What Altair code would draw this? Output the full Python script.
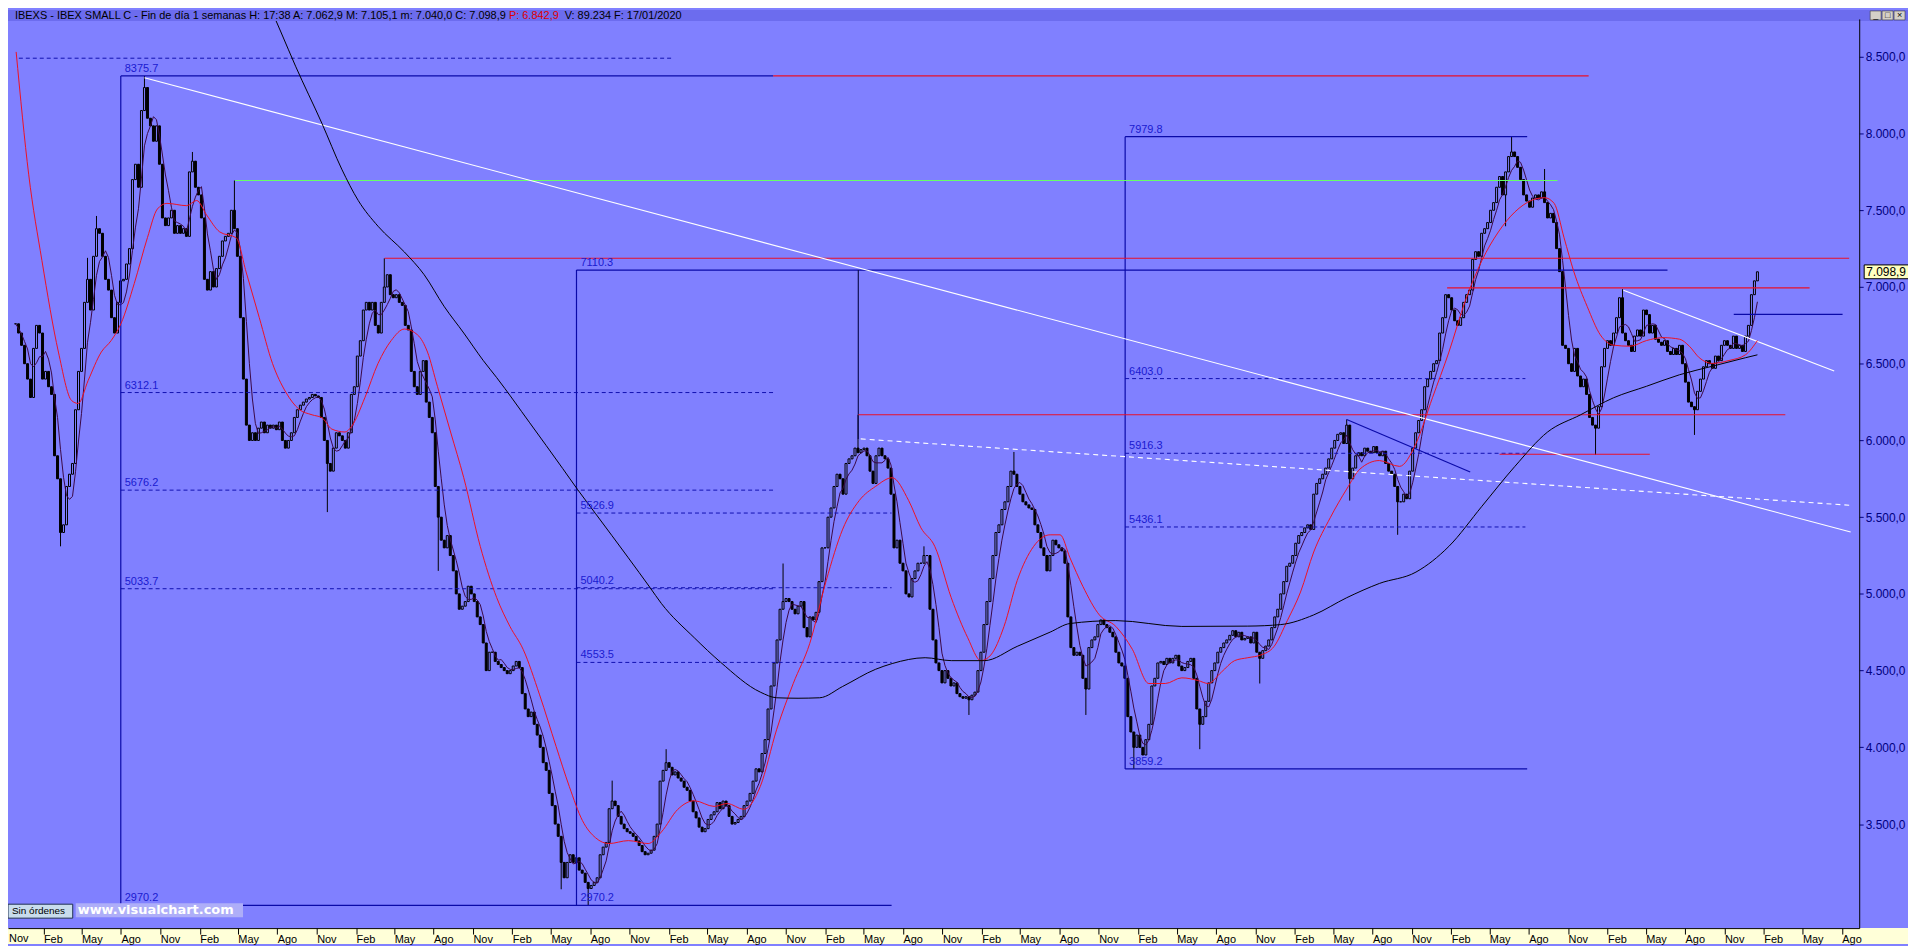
import altair as alt
import numpy as np
import pandas as pd

# ---------------- data ----------------
FIRST_WEEK = "2008-11-28"   # first weekly candle; one value per week up to 17/01/2020

closes = [
    6760, 6700, 6620, 6500, 6400, 6280, 6600, 6750, 6700, 6400,
    6450, 6350, 6300, 5900, 5750, 5400, 5450, 5700, 5780, 5850,
    6200, 6450, 6600, 6900, 7050, 6850, 7200, 7380, 7350, 7200,
    7050, 6980, 6800, 6700, 6900, 7040, 7050, 7150, 7250, 7700,
    7800, 7650, 8150, 8300, 8100, 8050, 7950, 8050, 7800, 7450,
    7400, 7450, 7500, 7350, 7400, 7350, 7380, 7330, 7750, 7820,
    7650, 7600, 7450, 7050, 6980, 7100, 7000, 7120, 7200, 7300,
    7330, 7350, 7500, 7380, 7200, 6800, 6400, 6100, 6000, 6050,
    6000, 6080, 6120, 6050, 6100, 6080, 6100, 6070, 6120, 6000,
    5950, 6000, 6050, 6150, 6200, 6230, 6250, 6270, 6280, 6300,
    6290, 6280, 6150, 6000, 5850, 5800, 5950, 6050, 6030, 6000,
    5950, 6050, 6300, 6350, 6550, 6650, 6850, 6900, 6850, 6900,
    6750, 6700, 6900, 7000, 7080, 6950, 6930, 6950, 6900, 6880,
    6750, 6720, 6450, 6350, 6300, 6450, 6520, 6250, 6150, 6050,
    5700, 5500, 5350, 5300, 5380, 5250, 5150, 5000, 4900, 4920,
    4950, 5050, 5000, 4950, 4850, 4800, 4680, 4500, 4620, 4620,
    4560, 4540, 4520, 4500, 4480, 4500, 4530, 4560, 4520, 4350,
    4250, 4200, 4230, 4150, 4080, 4000, 3900, 3850, 3700, 3620,
    3500, 3420, 3250, 3150, 3250, 3300, 3250, 3280, 3200, 3180,
    3120, 3080, 3100, 3120, 3150, 3300, 3350, 3380, 3600, 3650,
    3620, 3550, 3500, 3470, 3450, 3440, 3420, 3390, 3360, 3320,
    3300, 3310, 3330, 3420, 3500, 3780, 3850, 3900, 3870, 3820,
    3840, 3800, 3780, 3740, 3720, 3650, 3580, 3540, 3480, 3450,
    3470, 3530, 3560, 3580, 3640, 3600, 3650, 3620, 3550, 3500,
    3510, 3530, 3550, 3620, 3650, 3700, 3780, 3860, 3840, 3960,
    4050, 4250, 4400, 4550, 4700, 4900, 4950, 4970, 4950, 4900,
    4870, 4920, 4950, 4780, 4720, 4850, 4830, 4880, 5080, 5300,
    5300, 5500, 5560, 5700, 5780, 5750, 5650, 5850, 5880, 5900,
    5950, 5920, 5940, 5950, 5900, 5800, 5720, 5900, 5950, 5900,
    5880, 5820, 5650, 5300, 5350, 5200, 5150, 5000, 4980, 5100,
    5150, 5200, 5200, 5250, 5250, 4900, 4700, 4550, 4500, 4420,
    4500, 4450, 4400, 4420, 4350, 4330, 4320, 4330, 4310, 4340,
    4360, 4500, 4620, 4800, 4950, 5100, 5250, 5400, 5450, 5550,
    5600, 5700, 5800, 5780, 5700, 5650, 5600, 5580, 5560, 5550,
    5450, 5400, 5300, 5250, 5150, 5250, 5350, 5320, 5300, 5280,
    5200, 4850, 4650, 4600, 4620, 4600, 4450, 4380, 4650, 4700,
    4720, 4800, 4830, 4800, 4780, 4750, 4720, 4620, 4550, 4530,
    4450, 4200, 4100, 4000, 4080, 4000, 3950, 4050, 4150, 4400,
    4450, 4550, 4560, 4540, 4580, 4550, 4580, 4600, 4530, 4500,
    4520, 4560, 4580, 4450, 4250, 4150, 4200, 4300, 4420, 4500,
    4550, 4620, 4650, 4680, 4700, 4730, 4760, 4720, 4750, 4700,
    4710, 4720, 4680, 4750, 4620, 4580, 4630, 4660, 4700, 4780,
    4850, 4900, 5000, 5080, 5180, 5200, 5250, 5330, 5380, 5400,
    5430, 5450, 5420, 5650, 5720, 5750, 5780, 5820, 5880, 5950,
    6000, 6040, 6050, 5980, 6100, 5750, 5820, 5900, 5920, 5900,
    5950, 5930, 5920, 5960, 5920, 5900, 5930, 5850, 5800, 5780,
    5700, 5600, 5600, 5650, 5620, 5800, 5950, 6050, 6130, 6200,
    6350, 6400, 6450, 6500, 6520, 6700, 6800, 6950, 6930, 6850,
    6780, 6750, 6800, 6900, 6950, 6980, 7180, 7230, 7200, 7350,
    7380, 7420, 7500, 7550, 7650, 7720, 7600, 7750, 7850, 7880,
    7850, 7780, 7700, 7600, 7560, 7520, 7580, 7600, 7580, 7620,
    7550, 7450, 7480, 7420, 7250, 7100, 6620, 6600, 6500, 6450,
    6600, 6420, 6350, 6400, 6300, 6150, 6100, 6080, 6220, 6480,
    6600, 6650, 6620, 6700, 6800, 6930, 6700, 6650, 6620, 6580,
    6680, 6720, 6680, 6850, 6820, 6700, 6750, 6660, 6640, 6620,
    6650, 6580, 6560, 6600, 6560, 6620, 6500, 6380, 6250, 6220,
    6200, 6320, 6400, 6480, 6520, 6500, 6470, 6550, 6520, 6620,
    6650, 6620, 6600, 6680, 6600, 6620, 6580, 6680, 6750, 6950,
    7040, 7098.9,
]

# notable wicks (week index, price)
wick_hi_week = [24, 27, 43, 59, 73, 123, 199, 217, 256, 281, 303, 333, 444, 499, 510, 536]
wick_hi_val = [7190, 7463, 8375.7, 7880, 7694, 7187, 3783, 3988, 5198, 6167, 5310, 5925, 6137, 7979.8, 7769, 6986]
wick_lo_week = [15, 104, 141, 182, 191, 318, 357, 373, 395, 415, 445, 461, 497, 527, 560]
wick_lo_val = [5310, 5533, 5150, 3075, 2970.2, 4211, 4211, 3859.2, 3988, 4416, 5608, 5385, 7396, 5906, 6036]

# red moving average (week index, value)
red_ma_week = [0.2, 4.4, 8.8, 14.3, 18.7, 20.9, 24.2, 28.6, 31.9, 35.2, 39.6, 44, 47.3, 50.5, 57.1, 60.4,
               63.7, 68.1, 73.6, 76.9, 81.3, 85.7, 90.1, 94.5, 98.9, 102.2, 105.5, 109.9, 112.1, 116.5,
               120.9, 125.3, 129.7, 134.1, 137.4, 140.7, 145.1, 149.5, 155, 160.5, 164.9, 169.3, 174.8,
               180.3, 184.7, 189.1, 193.5, 197.9, 204.4, 211, 215.4, 220.9, 226.4, 233, 237.4, 242.9,
               248.4, 253.9, 259.4, 264.9, 270.4, 275.9, 281.4, 286.9, 292.4, 297.9, 302, 306.6, 312.1,
               317.6, 322, 325.3, 329.7, 334.1, 339.6, 345.1, 348.4, 351.7, 356, 361.5, 367, 372.5, 378,
               383.5, 389, 394.5, 397.8, 402.2, 406.6, 411, 415.4, 419.8, 424.2, 428.6, 433, 438.5, 444,
               448.4, 454.9, 461.6, 467.1, 472.6, 478.1, 483.6, 489.1, 494.6, 500.1, 505.6, 510, 513.2,
               516.5, 519.8, 524.2, 528.6, 533, 538.5, 544, 549.5, 555, 558.3, 561.6, 566, 571.5, 577, 581]
red_ma_val = [8532, 7731, 7172, 6576, 6260, 6241, 6390, 6576, 6651, 6763, 7023, 7322, 7508, 7545, 7530, 7564,
              7470, 7359, 7321, 7098, 6800, 6502, 6316, 6204, 6167, 6148, 6074, 6055, 6092, 6278,
              6502, 6651, 6726, 6688, 6576, 6353, 6055, 5757, 5310, 4975, 4788, 4639, 4342,
              4006, 3745, 3522, 3410, 3373, 3392, 3373, 3448, 3596, 3652, 3615, 3634, 3596,
              3745, 4118, 4416, 4677, 5087, 5422, 5608, 5701, 5757, 5608, 5430, 5310, 4975,
              4714, 4565, 4602, 4788, 5087, 5310, 5385, 5385, 5235, 5049, 4863, 4788, 4639, 4416,
              4416, 4453, 4435, 4416, 4490, 4565, 4584, 4602, 4658, 4826, 5012, 5273, 5496, 5683,
              5813, 5869, 5831, 5980, 6278, 6576, 6912, 7172, 7359, 7489, 7564, 7582, 7545,
              7321, 7098, 6874, 6688, 6621, 6614, 6651, 6670, 6660, 6614, 6539, 6502, 6521, 6558, 6651]

# long black moving average (week index, value) - enters from above the top edge
black_ma_week = [80, 88.5, 93.4, 102.2, 108.8, 114.3, 120.9, 129.7, 136.3, 142.9, 149.5, 156, 160.5,
                 171.5, 182.5, 187.4, 193.5, 204.4, 211.6, 215.4, 226.4, 235.2, 248.4, 253.9, 261,
                 268.2, 275.9, 286.9, 292.4, 303.4, 312.1, 323.1, 334.1, 345.1, 351.7, 367, 389, 411,
                 422, 433, 444, 454.9, 467.1, 478.1, 489.1, 500.1, 511, 522, 533, 544, 555, 566, 577, 581]
black_ma_val = [9045, 8662, 8439, 8066, 7768, 7564, 7396, 7228, 7080, 6875, 6700, 6521, 6409,
                6115, 5817, 5682, 5522, 5235, 5042, 4938, 4714, 4554, 4360, 4323, 4320,
                4323, 4397, 4509, 4546, 4584, 4565, 4565, 4658, 4751, 4807, 4826, 4788, 4790,
                4800, 4863, 4975, 5068, 5142, 5310, 5571, 5831, 6055, 6167, 6278, 6353, 6428, 6484, 6539, 6558]

# drawn objects: (start week, start value, end week, end value)
blue_solid = [(35.1, 2970.2, 35.1, 8375.7), (35.1, 8375.7, 252.7, 8375.7), (35.1, 2970.2, 292.2, 2970.2),
              (187.1, 2970.2, 187.1, 7110.3), (187.1, 7110.3, 551.0, 7110.3),
              (370.1, 3859.2, 370.1, 7979.8), (370.1, 7979.8, 504.2, 7979.8), (370.1, 3859.2, 504.2, 3859.2),
              (573.1, 6822, 609.4, 6822), (444.0, 6137, 485.2, 5794)]
dark_solid = [(281.1, 7110.3, 281.1, 6010)]
red_solid = [(252.7, 8375.7, 524.7, 8375.7), (123.1, 7187, 611.6, 7187), (477.5, 6994, 598.4, 6994),
             (281.1, 6167, 590.3, 6167), (495.0, 5910, 545.1, 5910)]
green_solid = [(73.2, 7694, 514.3, 7694)]
white_solid = [(43.0, 8364, 612.1, 5403), (536.3, 6979, 606.6, 6453)]
blue_dashed = [(1.1, 8491, 218.7, 8491),
               (35.1, 6312.1, 252.7, 6312.1), (35.1, 5676.2, 252.7, 5676.2), (35.1, 5033.7, 252.7, 5033.7),
               (187.1, 5526.9, 292.2, 5526.9), (187.1, 5040.2, 292.2, 5040.2), (187.1, 4553.5, 292.2, 4553.5),
               (370.1, 6403.0, 503.6, 6403.0), (370.1, 5916.3, 503.6, 5916.3), (370.1, 5436.1, 503.6, 5436.1)]
white_dashed = [(281.9, 6010, 611.6, 5578)]

level_week = [35.1, 35.1, 35.1, 35.1, 35.1, 187.1, 187.1, 187.1, 187.1, 187.1, 370.1, 370.1, 370.1, 370.1, 370.1]
level_val = [8375.7, 6312.1, 5676.2, 5033.7, 2970.2, 7110.3, 5526.9, 5040.2, 4553.5, 2970.2,
             7979.8, 6403.0, 5916.3, 5436.1, 3859.2]
level_text = ["8375.7", "6312.1", "5676.2", "5033.7", "2970.2", "7110.3", "5526.9", "5040.2", "4553.5", "2970.2",
              "7979.8", "6403.0", "5916.3", "5436.1", "3859.2"]

month_abbr = ["Ene", "Feb", "Mar", "Abr", "May", "Jun", "Jul", "Ago", "Sep", "Oct", "Nov", "Dic"]
tick_months = [2, 5, 8, 11]
first_partial_label = "Nov"
y_ticks = [3500, 4000, 4500, 5000, 5500, 6000, 6500, 7000, 7500, 8000, 8500]
last_price = 7098.9
last_label = "7.098,9"

title_main = ("IBEXS - IBEX SMALL C - Fin de día 1 semanas  H: 17:38  A: 7.062,9  M: 7.105,1  "
              "m: 7.040,0  C: 7.098,9")
title_red = "P: 6.842,9"
title_end = "V: 89.234  F: 17/01/2020"

# ---------------- tables ----------------
start = pd.Timestamp(FIRST_WEEK)


def wk(w):
    return start + pd.to_timedelta(np.asarray(w, dtype=float) * 7, unit="D")


n = len(closes)
opens = [closes[0]] + closes[:-1]
hi = np.maximum(opens, closes).astype(float)
lo = np.minimum(opens, closes).astype(float)
for w, v in zip(wick_hi_week, wick_hi_val):
    hi[w] = max(hi[w], v)
for w, v in zip(wick_lo_week, wick_lo_val):
    lo[w] = min(lo[w], v)
df = pd.DataFrame({"date": wk(np.arange(n)), "open": opens, "close": closes, "high": hi, "low": lo})
df["up"] = df["close"] >= df["open"]

red_df = pd.DataFrame({"date": wk(red_ma_week), "v": red_ma_val})
black_df = pd.DataFrame({"date": wk(black_ma_week), "v": black_ma_val})


def seg_df(segs):
    a = np.array(segs, dtype=float)
    return pd.DataFrame({"d1": wk(a[:, 0]), "v1": a[:, 1], "d2": wk(a[:, 2]), "v2": a[:, 3]})


lab_df = pd.DataFrame({"date": wk(level_week), "v": level_val, "t": level_text})
tag_df = pd.DataFrame({"top": [last_price + 45], "bot": [last_price - 45], "v": [last_price], "t": [last_label]})
one = pd.DataFrame({"k": [0]})

# ---------------- scales / axes ----------------
W, H = 1859, 913
BG = "#8080ff"
FONT = "Liberation Sans"

tick_dates = [alt.DateTime(year=y, month=m, date=1) for y in range(2008, 2021) for m in tick_months]
xscale = alt.Scale(domain=[alt.DateTime(year=2008, month=11, date=22), alt.DateTime(year=2020, month=8, date=30)],
                   nice=False)
yscale = alt.Scale(domain=[2822, 8747], nice=False, zero=False)
month_js = "[" + ",".join("'%s'" % m for m in month_abbr) + "]"
xaxis = alt.Axis(values=tick_dates, labelExpr="' ' + " + month_js + "[month(datum.value)]", labelAlign="left",
                 labelBaseline="top", labelPadding=-1, tickSize=6, tickColor="black",
                 domainColor="black", labelColor="black", labelFont=FONT, labelFontSize=11, grid=False,
                 title=None, zindex=1, labelOverlap=False, labelFlush=False)
yaxis = alt.Axis(orient="right", values=y_ticks,
                 labelExpr="replace(replace(replace(format(datum.value, ',.1f'), ',', '#'), '.', ','), '#', '.')",
                 tickSize=4, tickColor="#000080", domainColor="black", labelColor="#000080", labelFont=FONT,
                 labelFontSize=12, labelPadding=2, grid=False, title=None, zindex=1, labelOverlap=False)


def X(f):
    return alt.X(f, type="temporal", scale=xscale, axis=xaxis, title=None)


def Y(f):
    return alt.Y(f, type="quantitative", scale=yscale, axis=yaxis, title=None)


layers = []

# x-axis yellow band
layers.append(alt.Chart(one).mark_rect(color="#ffffd8").encode(
    x=alt.value(0), x2=alt.value(1908), y=alt.value(H), y2=alt.value(H + 16)))
layers.append(alt.Chart(one).mark_text(align="left", baseline="top", fontSize=11, font=FONT,
                                       color="black").encode(x=alt.value(1), y=alt.value(H + 5),
                                                             text=alt.value(first_partial_label)))

# candles
base = alt.Chart(df)
layers.append(base.mark_rule(color="black", strokeWidth=1).encode(x=X("date"), y=Y("low"), y2="high"))
layers.append(base.mark_bar(size=2, stroke="black", strokeWidth=1).encode(
    x=X("date"), y=Y("open"), y2="close",
    fill=alt.condition("datum.up", alt.value(BG), alt.value("black"))))

# short moving average
layers.append(base.transform_window(sma="mean(close)", frame=[-4, 0], sort=[alt.SortField("date")])
              .mark_line(color="#3a0846", strokeWidth=1).encode(x=X("date"), y=Y("sma:Q")))


# drawn lines
def seg_layer(segs, color, width=1, dash=None):
    kw = dict(color=color, strokeWidth=width, clip=True)
    if dash:
        kw["strokeDash"] = dash
    return alt.Chart(seg_df(segs)).mark_rule(**kw).encode(x=X("d1"), x2="d2", y=Y("v1"), y2="v2")


layers.append(seg_layer(blue_dashed, "#1010b0", 1, [4, 3]))
layers.append(seg_layer(blue_solid, "#0a0aa8", 1.2))
layers.append(seg_layer(dark_solid, "#101050", 1.2))
layers.append(seg_layer(red_solid, "#e8102a", 1.1))
layers.append(seg_layer(green_solid, "#66ff66", 1))
layers.append(seg_layer(white_solid, "white", 1.1))
layers.append(seg_layer(white_dashed, "white", 1.1, [5, 4]))

# moving averages
layers.append(alt.Chart(red_df).mark_line(color="#ee1122", strokeWidth=1, interpolate="monotone",
                                          clip=True).encode(x=X("date"), y=Y("v")))
layers.append(alt.Chart(black_df).mark_line(color="black", strokeWidth=1, interpolate="monotone",
                                            clip=True).encode(x=X("date"), y=Y("v")))

# fibonacci labels
layers.append(alt.Chart(lab_df).mark_text(align="left", baseline="bottom", dx=4, dy=-2, fontSize=11,
                                          font=FONT, color="#1a1ad0").encode(x=X("date"), y=Y("v"), text="t"))

# last price tag on the price axis
layers.append(alt.Chart(tag_df).mark_rect(fill="#ffffc0", stroke="black", strokeWidth=1).encode(
    x=alt.value(W + 5), x2=alt.value(W + 52), y=Y("top"), y2="bot"))
layers.append(alt.Chart(tag_df).mark_text(align="left", baseline="middle", fontSize=12, font=FONT,
                                          color="black").encode(x=alt.value(W + 7), y=Y("v"), text="t"))

# header bar
layers.append(alt.Chart(one).mark_rect(color="#6c6cee").encode(
    x=alt.value(0), x2=alt.value(1908), y=alt.value(-9), y2=alt.value(2)))
for xx, txt, col in [(7, title_main, "black"), (503, title_red, "#e00000"), (559, title_end, "black")]:
    layers.append(alt.Chart(one).mark_text(align="left", baseline="middle", fontSize=11, font=FONT,
                                           color=col).encode(x=alt.value(xx), y=alt.value(-3),
                                                             text=alt.value(txt)))
for bx, sym in [(1870, "_"), (1882, "□"), (1894, "×")]:
    layers.append(alt.Chart(one).mark_rect(fill="#d4d0c8", stroke="#404040", strokeWidth=0.6).encode(
        x=alt.value(bx), x2=alt.value(bx + 11), y=alt.value(-8), y2=alt.value(1)))
    layers.append(alt.Chart(one).mark_text(fontSize=9, font=FONT, color="black", baseline="middle").encode(
        x=alt.value(bx + 5.5), y=alt.value(-4), text=alt.value(sym)))

# bottom-left status box and watermark
layers.append(alt.Chart(one).mark_rect(fill="#c8dcec", stroke="#203050", strokeWidth=1).encode(
    x=alt.value(0), x2=alt.value(65), y=alt.value(889), y2=alt.value(903)))
layers.append(alt.Chart(one).mark_text(align="left", baseline="middle", fontSize=10, font=FONT,
                                       color="black").encode(x=alt.value(4), y=alt.value(896),
                                                             text=alt.value("Sin órdenes")))
layers.append(alt.Chart(one).mark_rect(fill="#aeaef8").encode(
    x=alt.value(68), x2=alt.value(236), y=alt.value(888), y2=alt.value(902)))
layers.append(alt.Chart(one).mark_text(align="left", baseline="middle", fontSize=13, font="DejaVu Sans",
                                       fontWeight="bold", color="white").encode(
    x=alt.value(70), y=alt.value(895), text=alt.value("www.visualchart.com")))

chart = alt.layer(*layers).properties(
    width=W, height=H,
    padding={"left": 0, "top": 9, "right": 49, "bottom": 16},
    autosize=alt.AutoSizeParams(type="none"),
    background=BG,
).configure_view(stroke=None)

chart.save("out.html", embed_options={"renderer": "svg", "actions": False})
